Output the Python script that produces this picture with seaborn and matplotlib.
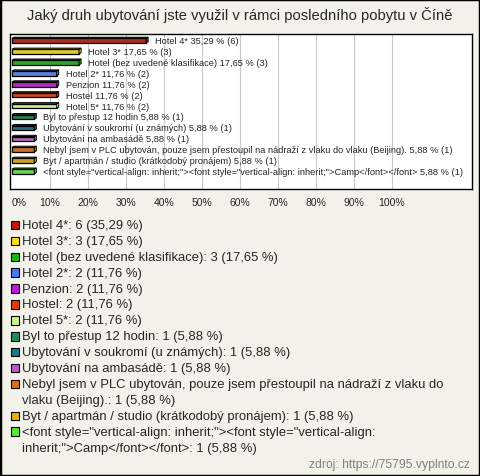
import textwrap
import numpy as np
import matplotlib
matplotlib.use("Agg")
import matplotlib.pyplot as plt
from matplotlib.patches import Rectangle, Polygon
import seaborn as sns

categories = [
    "Hotel 4*",
    "Hotel 3*",
    "Hotel (bez uvedené klasifikace)",
    "Hotel 2*",
    "Penzion",
    "Hostel",
    "Hotel 5*",
    "Byl to přestup 12 hodin",
    "Ubytování v soukromí (u známých)",
    "Ubytování na ambasádě",
    "Nebyl jsem v PLC ubytován, pouze jsem přestoupil na nádraží z vlaku do vlaku (Beijing).",
    "Byt / apartmán / studio (krátkodobý pronájem)",
    '<font style="vertical-align: inherit;"><font style="vertical-align: inherit;">Camp</font></font>',
]
counts = [6, 3, 3, 2, 2, 2, 2, 1, 1, 1, 1, 1, 1]
percents = [35.29, 17.65, 17.65, 11.76, 11.76, 11.76, 11.76, 5.88, 5.88, 5.88, 5.88, 5.88, 5.88]
colors = ["#c0180c", "#f8e010", "#18b818", "#4878f0", "#c018d8", "#e03c08", "#c8f888",
          "#189058", "#187890", "#c058c8", "#e07010", "#e8b008", "#58e838"]
tick_values = [0, 10, 20, 30, 40, 50, 60, 70, 80, 90, 100]
tick_labels = [f"{v}%" for v in tick_values]
title = "Jaký druh ubytování jste využil v rámci posledního pobytu v Číně"
source = "zdroj: https://75795.vyplnto.cz"

sns.set_theme(style="white")
plt.rcParams["font.family"] = ["Liberation Sans", "DejaVu Sans"]

W, H = 480, 477
BG = "#f3f2ea"
fig = plt.figure(figsize=(W / 100, H / 100), dpi=100, facecolor=BG)

def fx(px):
    return px / W

def fy(py):
    return 1 - py / H

# axes box
ax_l, ax_r, ax_t, ax_b = 10, 472, 35, 190
ax = fig.add_axes([fx(ax_l), fy(ax_b), fx(ax_r - ax_l), (ax_b - ax_t) / H])
ax.set_facecolor("white")

def fmt(v):
    return f"{v:.2f}".replace(".", ",")

sns.barplot(x=percents, y=categories, hue=categories, palette=colors, legend=False,
            orient="h", width=0.42, edgecolor="black", linewidth=0.9, ax=ax, zorder=3)

x0px, scale = 12, 3.8
ax.set_xlim((ax_l - x0px) / scale, (ax_r - x0px) / scale)
y0px, step = 41.7, 10.9
ax.set_ylim((ax_b - y0px) / step, (ax_t - y0px) / step)

ax.set_xticks(tick_values)
ax.set_xticklabels(tick_labels, fontsize=7.5)
ax.get_xticklabels()[0].set_ha("left")
ax.tick_params(axis="x", length=0, pad=6)
ax.set_yticks([])
ax.set_ylabel("")
ax.set_xlabel("")
for v in tick_values[1:]:
    ax.axvline(v, color="#c8c8c8", lw=0.8, zorder=1)
for s in ax.spines.values():
    s.set_color("black")
    s.set_linewidth(1.0)

for i, (c, p, n) in enumerate(zip(categories, percents, counts)):
    ax.annotate(f"{c} {fmt(p)} % ({n})", xy=(p, i), xytext=(6.5, 0),
                textcoords="offset points", va="center", ha="left", fontsize=6.7,
                zorder=4)

# 3D cap effect
fig.canvas.draw()
for patch, col in zip(ax.patches, colors):
    x, y = patch.get_x(), patch.get_y()
    w, h = patch.get_width(), patch.get_height()
    (X0, Y0), (X1, Y1) = ax.transData.transform([(x, y), (x + w, y + h)])
    ytop = max(Y0, Y1)
    ybot = min(Y0, Y1)
    d = 2.0
    top = Polygon([(X0, ytop), (X1, ytop), (X1 + d, ytop + d * 0.6), (X0 + d, ytop + d * 0.6)],
                  closed=True, transform=None, facecolor=col, edgecolor="black",
                  lw=0.7, zorder=5)
    side = Polygon([(X1, ytop), (X1 + d, ytop + d * 0.6), (X1 + d, ybot + d * 0.6), (X1, ybot)],
                   closed=True, transform=None, facecolor=col, edgecolor="black",
                   lw=0.7, zorder=5)
    fig.artists.append(top)
    fig.artists.append(side)
    top.set_figure(fig)
    side.set_figure(fig)

# title
fig.text(0.5, fy(15), title, ha="center", va="center", fontsize=10.6)

# legend
line_h = 15.9
yline = 226
for c, n, p, col in zip(categories, counts, percents, colors):
    label = f"{c}: {n} ({fmt(p)} %)"
    lines = textwrap.wrap(label, width=70)
    sq = 8.5
    fig.patches.append(Rectangle((fx(10.5), fy(yline + sq / 2)), fx(sq), sq / H,
                                 transform=fig.transFigure, facecolor=col,
                                 edgecolor="black", lw=0.8))
    for ln in lines:
        fig.text(fx(21.5), fy(yline), ln, ha="left", va="center", fontsize=9.4)
        yline += line_h

fig.text(fx(470), fy(465), source, ha="right", va="center", fontsize=8.7, color="#808080")

# outer border
fig.patches.append(Rectangle((0, 0), 1, 1, transform=fig.transFigure, fill=False,
                             edgecolor="black", lw=2.5))

fig.savefig("out.png", dpi=100, facecolor=BG)
